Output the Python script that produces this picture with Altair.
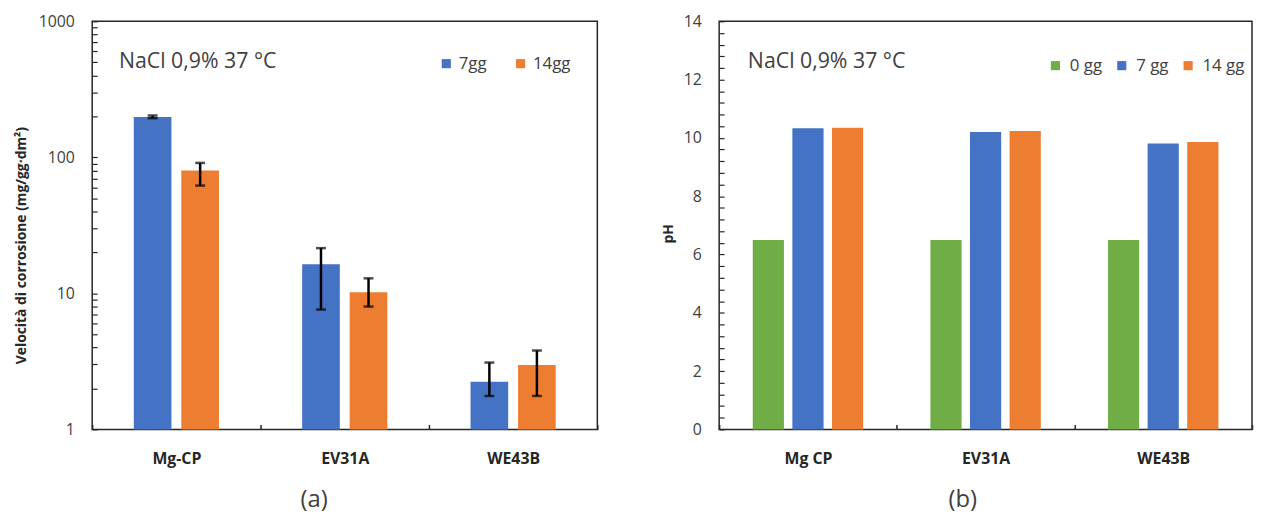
import altair as alt
import pandas as pd

# ---------------- data (a) ----------------
materials_a = ["Mg-CP", "EV31A", "WE43B"]
series_a = ["7gg", "14gg"]
rate_7 = [198, 16.4, 2.24]
rate_7_lo = [194, 7.6, 1.76]
rate_7_hi = [203, 21.5, 3.1]
rate_14 = [80, 10.2, 2.97]
rate_14_lo = [62, 8.0, 1.76]
rate_14_hi = [91, 12.9, 3.8]

# ---------------- data (b) ----------------
materials_b = ["Mg CP", "EV31A", "WE43B"]
series_b = ["0 gg", "7 gg", "14 gg"]
ph_0 = [6.5, 6.5, 6.5]
ph_7 = [10.33, 10.2, 9.81]
ph_14 = [10.35, 10.24, 9.86]

# ---------------- ticks / texts ----------------
log_ticks = [1, 2, 3, 4, 5, 6, 7, 8, 9,
             10, 20, 30, 40, 50, 60, 70, 80, 90,
             100, 200, 300, 400, 500, 600, 700, 800, 900, 1000]
log_labels = [1, 10, 100, 1000]
ph_ticks = [round(0.4 * i, 1) for i in range(36)]
ph_labels = [0, 2, 4, 6, 8, 10, 12, 14]
note = "NaCl 0,9% 37 °C"
title_a = "Velocità di corrosione (mg/gg·dm²)"
title_b = "pH"

BLUE, ORANGE, GREEN = "#4472C4", "#ED7D31", "#70AD47"
FONT = "Open Sans"
DARK = "#262626"
GREY = "#404040"

rows_a = []
for i, m in enumerate(materials_a):
    rows_a.append(dict(material=m, series="7gg", value=rate_7[i], lo=rate_7_lo[i], hi=rate_7_hi[i]))
    rows_a.append(dict(material=m, series="14gg", value=rate_14[i], lo=rate_14_lo[i], hi=rate_14_hi[i]))
df_a = pd.DataFrame(rows_a)

rows_b = []
for i, m in enumerate(materials_b):
    for s, arr in zip(series_b, [ph_0, ph_7, ph_14]):
        rows_b.append(dict(material=m, series=s, value=arr[i]))
df_b = pd.DataFrame(rows_b)

INWARD = {"expr": "-5"}


def x_axis():
    return alt.Axis(title=None, labelFont=FONT, labelFontSize=16, labelFontWeight="bold",
                    labelColor=DARK, labelAngle=0, tickBand="extent", ticks=True,
                    tickSize=INWARD, tickColor=DARK, tickWidth=1.5, domain=False,
                    labelPadding=26)


def y_axis(values, labels, title, tpad, ty):
    return alt.Axis(values=values, tickCount=500,
                    labelExpr="indexof(%s, datum.value) >= 0 ? ('' + datum.value) : ''" % labels,
                    labelOverlap=False, tickSize=INWARD, tickColor=DARK, tickWidth=1.2,
                    domain=False, labelPadding=23, labelFont=FONT, labelFontSize=16,
                    labelColor=GREY, grid=False, title=title, titleFont=FONT,
                    titleFontSize=14, titleFontWeight="bold", titleColor=DARK,
                    titlePadding=tpad, titleY=ty)


W_A, W_B, H = 510, 538, 412

# ---------------- panel (a) ----------------
xa = alt.X("material:N", sort=materials_a, axis=x_axis(),
           scale=alt.Scale(paddingInner=0, paddingOuter=0))
xoa = alt.XOffset("series:N", sort=series_a,
                  scale=alt.Scale(paddingInner=0.208, paddingOuter=0.875))
ya_scale = alt.Scale(type="log", domain=[1, 1000])
ya_axis = y_axis(log_ticks, log_labels, title_a, 10, 226)

base_a = alt.Chart(df_a)
bars_a = base_a.mark_bar().encode(
    x=xa, xOffset=xoa,
    y=alt.Y("value:Q", scale=ya_scale, axis=ya_axis),
    y2=alt.datum(1),
    color=alt.Color("series:N", scale=alt.Scale(domain=series_a, range=[BLUE, ORANGE]),
                    legend=alt.Legend(orient="none", legendX=349, legendY=34,
                                      direction="horizontal", columns=2, title=None,
                                      symbolType="square", symbolSize=85, symbolStrokeWidth=0,
                                      labelFont=FONT, labelFontSize=17, labelColor=GREY,
                                      labelOffset=4, columnPadding=25, padding=0)),
)
rule_a = base_a.mark_rule(color="black", strokeWidth=2.5).encode(
    x=xa, xOffset=xoa,
    y=alt.Y("lo:Q", scale=ya_scale, axis=ya_axis), y2="hi:Q")
cap_lo_a = base_a.mark_tick(color="black", thickness=2.5, size=10).encode(
    x=xa, xOffset=xoa, y=alt.Y("lo:Q", scale=ya_scale, axis=ya_axis))
cap_hi_a = base_a.mark_tick(color="black", thickness=2.5, size=10).encode(
    x=xa, xOffset=xoa, y=alt.Y("hi:Q", scale=ya_scale, axis=ya_axis))
note_a = alt.Chart(pd.DataFrame({"t": [note]})).mark_text(
    align="left", baseline="middle", font=FONT, fontSize=21.5, color=GREY
).encode(x=alt.value(27), y=alt.value(41), text="t:N")
cap_a = alt.Chart(pd.DataFrame({"t": ["(a)"]})).mark_text(
    align="center", baseline="middle", font=FONT, fontSize=24, color=GREY
).encode(x=alt.value(224), y=alt.value(483), text="t:N")

panel_a = alt.layer(bars_a, rule_a, cap_lo_a, cap_hi_a, note_a, cap_a).properties(width=W_A, height=H)

# ---------------- panel (b) ----------------
xb = alt.X("material:N", sort=materials_b, axis=x_axis(),
           scale=alt.Scale(paddingInner=0, paddingOuter=0))
xob = alt.XOffset("series:N", sort=series_b,
                  scale=alt.Scale(paddingInner=0.2125, paddingOuter=0.848))
yb_axis = y_axis(ph_ticks, ph_labels, title_b, 8, 214)
bars_b = alt.Chart(df_b).mark_bar().encode(
    x=xb, xOffset=xob,
    y=alt.Y("value:Q", scale=alt.Scale(domain=[0, 14], nice=False), axis=yb_axis),
    color=alt.Color("series:N", scale=alt.Scale(domain=series_b, range=[GREEN, BLUE, ORANGE]),
                    legend=alt.Legend(orient="none", legendX=331, legendY=36,
                                      direction="horizontal", columns=3, title=None,
                                      symbolType="square", symbolSize=85, symbolStrokeWidth=0,
                                      labelFont=FONT, labelFontSize=17, labelColor=GREY,
                                      labelOffset=6, columnPadding=11, padding=0)),
)
note_b = alt.Chart(pd.DataFrame({"t": [note]})).mark_text(
    align="left", baseline="middle", font=FONT, fontSize=21.5, color=GREY
).encode(x=alt.value(29), y=alt.value(41), text="t:N")
cap_b = alt.Chart(pd.DataFrame({"t": ["(b)"]})).mark_text(
    align="center", baseline="middle", font=FONT, fontSize=24, color=GREY
).encode(x=alt.value(246), y=alt.value(483), text="t:N")

panel_b = alt.layer(bars_b, note_b, cap_b).properties(width=W_B, height=H)

chart = alt.hconcat(panel_a, panel_b, spacing=61).resolve_scale(
    x="independent", y="independent", xOffset="independent", color="independent"
).properties(
    padding={"left": 5, "top": 2, "right": 0, "bottom": 0}
).configure_view(stroke=DARK, strokeWidth=1.5)

chart.save("out.html", embed_options={"renderer": "svg", "actions": False})
